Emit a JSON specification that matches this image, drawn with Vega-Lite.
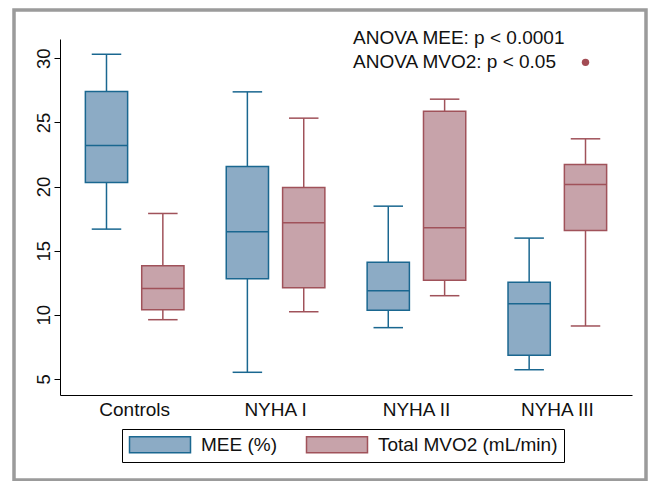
{
  "$schema": "https://vega.github.io/schema/vega-lite/v6.json",
  "width": 632,
  "height": 470,
  "autosize": {"type": "none"},
  "padding": {"left": 14, "top": 10, "right": 9, "bottom": 1},
  "background": "white",
  "config": {
    "view": {"stroke": "#9b9b9b", "strokeWidth": 3.5, "fill": "white"},
    "font": "Liberation Sans",
    "axis": {"domainColor": "#000", "tickColor": "#000", "labelColor": "#111", "labelFont": "Liberation Sans", "grid": false, "title": null, "domainWidth": 1, "tickWidth": 1}
  },
  "datasets": {
    "boxes": [
      {"cat": "Controls", "series": "MEE (%)", "lo": 16.68, "q1": 20.32, "med": 23.2, "q3": 27.4, "hi": 30.31},
      {"cat": "Controls", "series": "Total MVO2 (mL/min)", "lo": 9.62, "q1": 10.4, "med": 12.06, "q3": 13.83, "hi": 17.9},
      {"cat": "NYHA I", "series": "MEE (%)", "lo": 5.52, "q1": 12.82, "med": 16.48, "q3": 21.57, "hi": 27.38},
      {"cat": "NYHA I", "series": "Total MVO2 (mL/min)", "lo": 10.24, "q1": 12.11, "med": 17.18, "q3": 19.93, "hi": 25.33},
      {"cat": "NYHA II", "series": "MEE (%)", "lo": 9.0, "q1": 10.35, "med": 11.88, "q3": 14.09, "hi": 18.47},
      {"cat": "NYHA II", "series": "Total MVO2 (mL/min)", "lo": 11.49, "q1": 12.69, "med": 16.79, "q3": 25.87, "hi": 26.81},
      {"cat": "NYHA III", "series": "MEE (%)", "lo": 5.72, "q1": 6.85, "med": 10.87, "q3": 12.53, "hi": 15.98},
      {"cat": "NYHA III", "series": "Total MVO2 (mL/min)", "lo": 9.13, "q1": 16.58, "med": 20.16, "q3": 21.72, "hi": 23.72}
    ],
    "outliers": [
      {"cat": "NYHA III", "series": "Total MVO2 (mL/min)", "value": 29.68}
    ],
    "notes": [
      {"cat": "NYHA II", "y": 31.6, "label": "ANOVA MEE: p < 0.0001"},
      {"cat": "NYHA II", "y": 29.68, "label": "ANOVA MVO2: p < 0.05"}
    ]
  },
  "layer": [
    {
      "data": {"name": "boxes"},
      "mark": {"type": "rule", "strokeWidth": 1.5, "opacity": 1},
      "encoding": {
        "x": {"field": "cat", "type": "nominal", "sort": ["Controls", "NYHA I", "NYHA II", "NYHA III"],
              "scale": {"range": [46, 618], "paddingInner": 0.1, "paddingOuter": 0.08},
              "axis": {"offset": -85, "ticks": false, "labelPadding": 5, "labelFontSize": 19, "labelAngle": 0, "labelBaseline": "top"}},
        "xOffset": {"field": "series", "type": "nominal", "sort": ["MEE (%)", "Total MVO2 (mL/min)"], "scale": {"paddingInner": 0.25, "paddingOuter": 0.25}},
        "y": {"field": "lo", "type": "quantitative",
              "scale": {"domain": [3.75, 31.5], "range": [385, 29], "nice": false, "zero": false},
              "axis": {"offset": -46, "values": [5, 10, 15, 20, 25, 30], "tickSize": 6, "labelAngle": 270, "labelAlign": "center", "labelBaseline": "alphabetic", "labelPadding": 5, "labelFontSize": 18.5}},
        "y2": {"field": "q1"},
        "stroke": {"field": "series", "type": "nominal", "scale": {"domain": ["MEE (%)", "Total MVO2 (mL/min)"], "range": ["#1a6790", "#a0525a"]}}
      }
    },
    {
      "data": {"name": "boxes"},
      "mark": {"type": "rule", "strokeWidth": 1.5, "opacity": 1},
      "encoding": {
        "x": {"field": "cat", "type": "nominal", "sort": ["Controls", "NYHA I", "NYHA II", "NYHA III"]},
        "xOffset": {"field": "series", "type": "nominal", "sort": ["MEE (%)", "Total MVO2 (mL/min)"]},
        "y": {"field": "q3", "type": "quantitative"},
        "y2": {"field": "hi"},
        "stroke": {"field": "series", "type": "nominal"}
      }
    },
    {
      "data": {"name": "boxes"},
      "mark": {"type": "tick", "size": 28, "thickness": 0.01, "filled": false, "strokeWidth": 1.5, "opacity": 1},
      "encoding": {
        "x": {"field": "cat", "type": "nominal", "sort": ["Controls", "NYHA I", "NYHA II", "NYHA III"]},
        "xOffset": {"field": "series", "type": "nominal", "sort": ["MEE (%)", "Total MVO2 (mL/min)"]},
        "y": {"field": "lo", "type": "quantitative"},
        "stroke": {"field": "series", "type": "nominal"}
      }
    },
    {
      "data": {"name": "boxes"},
      "mark": {"type": "tick", "size": 28, "thickness": 0.01, "filled": false, "strokeWidth": 1.5, "opacity": 1},
      "encoding": {
        "x": {"field": "cat", "type": "nominal", "sort": ["Controls", "NYHA I", "NYHA II", "NYHA III"]},
        "xOffset": {"field": "series", "type": "nominal", "sort": ["MEE (%)", "Total MVO2 (mL/min)"]},
        "y": {"field": "hi", "type": "quantitative"},
        "stroke": {"field": "series", "type": "nominal"}
      }
    },
    {
      "data": {"name": "boxes"},
      "mark": {"type": "bar", "strokeWidth": 1.5, "opacity": 1},
      "encoding": {
        "x": {"field": "cat", "type": "nominal", "sort": ["Controls", "NYHA I", "NYHA II", "NYHA III"]},
        "xOffset": {"field": "series", "type": "nominal", "sort": ["MEE (%)", "Total MVO2 (mL/min)"]},
        "y": {"field": "q1", "type": "quantitative"},
        "y2": {"field": "q3"},
        "fill": {"field": "series", "type": "nominal", "scale": {"domain": ["MEE (%)", "Total MVO2 (mL/min)"], "range": ["#8cabc5", "#c7a3aa"]},
          "legend": {
            "orient": "none", "legendX": 108, "legendY": 419, "direction": "horizontal", "title": null,
            "symbolType": "M-1,-1H6.625V1H-1Z", "symbolSize": 256, "symbolStrokeWidth": 1.5,
            "labelFontSize": 19, "labelFont": "Liberation Sans", "labelColor": "#111", "labelOffset": 54, "labelLimit": 400,
            "columnPadding": 26, "padding": 6, "strokeColor": "#000", "fillColor": "white", "symbolOpacity": 1
          }},
        "stroke": {"field": "series", "type": "nominal"}
      }
    },
    {
      "data": {"name": "boxes"},
      "mark": {"type": "bar", "strokeWidth": 1.5, "fillOpacity": 0},
      "encoding": {
        "x": {"field": "cat", "type": "nominal", "sort": ["Controls", "NYHA I", "NYHA II", "NYHA III"]},
        "xOffset": {"field": "series", "type": "nominal", "sort": ["MEE (%)", "Total MVO2 (mL/min)"]},
        "y": {"field": "med", "type": "quantitative"},
        "y2": {"field": "med"},
        "stroke": {"field": "series", "type": "nominal"}
      }
    },
    {
      "data": {"name": "outliers"},
      "mark": {"type": "circle", "size": 55, "opacity": 1, "color": "#a34c54"},
      "encoding": {
        "x": {"field": "cat", "type": "nominal", "sort": ["Controls", "NYHA I", "NYHA II", "NYHA III"]},
        "xOffset": {"field": "series", "type": "nominal", "sort": ["MEE (%)", "Total MVO2 (mL/min)"]},
        "y": {"field": "value", "type": "quantitative"}
      }
    },
    {
      "data": {"name": "notes"},
      "mark": {"type": "text", "align": "left", "baseline": "middle", "fontSize": 19, "font": "Liberation Sans", "color": "#111"},
      "encoding": {
        "x": {"field": "cat", "type": "nominal", "sort": ["Controls", "NYHA I", "NYHA II", "NYHA III"], "bandPosition": 0},
        "y": {"field": "y", "type": "quantitative"},
        "text": {"field": "label"}
      }
    }
  ]
}
